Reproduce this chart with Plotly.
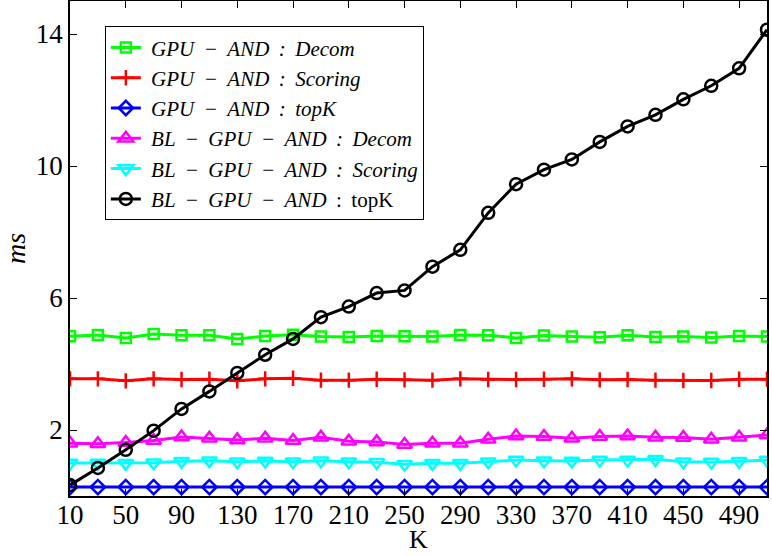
import plotly.graph_objects as go

K = list(range(10, 511, 20))

gpu_decom = [4.84, 4.88, 4.79, 4.91, 4.87, 4.87, 4.76, 4.85, 4.89, 4.83, 4.82, 4.85, 4.84,
             4.83, 4.88, 4.87, 4.79, 4.86, 4.83, 4.81, 4.87, 4.82, 4.83, 4.80, 4.85, 4.83]
gpu_scoring = [3.55, 3.55, 3.49, 3.55, 3.53, 3.54, 3.49, 3.55, 3.57, 3.51, 3.51, 3.54, 3.52,
               3.51, 3.55, 3.53, 3.53, 3.54, 3.55, 3.52, 3.53, 3.51, 3.50, 3.50, 3.54, 3.54]
gpu_topk = [0.27] * 26
bl_decom = [1.60, 1.58, 1.62, 1.68, 1.79, 1.75, 1.70, 1.75, 1.68, 1.78, 1.66, 1.64, 1.56,
            1.60, 1.60, 1.72, 1.82, 1.80, 1.75, 1.80, 1.82, 1.78, 1.77, 1.72, 1.78, 1.85]
bl_scoring = [1.00, 1.00, 0.99, 1.01, 1.05, 1.07, 1.04, 1.06, 1.04, 1.07, 1.04, 1.02, 0.96,
              0.99, 0.99, 1.04, 1.09, 1.07, 1.06, 1.09, 1.09, 1.11, 1.04, 1.03, 1.05, 1.09]
bl_topk = [0.33, 0.85, 1.40, 1.98, 2.64, 3.17, 3.73, 4.28, 4.76, 5.42, 5.74, 6.15, 6.23,
           6.95, 7.46, 8.58, 9.45, 9.89, 10.20, 10.73, 11.20, 11.55, 12.02, 12.43, 12.96, 14.13]

x_ticks = list(range(10, 491, 40))
y_ticks = [2, 6, 10, 14]

S = " \u2009"  # slightly widened math spacing
names = [
    f"\u00a0<i>GPU{S}−{S}AND{S}:{S}Decom</i>",
    f"\u00a0<i>GPU{S}−{S}AND{S}:{S}Scoring</i>",
    f"\u00a0<i>GPU{S}−{S}AND{S}:{S}topK</i>",
    f"\u00a0<i>BL{S}−{S}GPU{S}−{S}AND{S}:{S}Decom</i>",
    f"\u00a0<i>BL{S}−{S}GPU{S}−{S}AND{S}:{S}Scoring</i>",
    f"\u00a0<i>BL{S}−{S}GPU{S}−{S}AND</i>{S}:{S}topK",
]
series = [gpu_decom, gpu_scoring, gpu_topk, bl_decom, bl_scoring, bl_topk]
colors = ["#00ff00", "#ff0000", "#0000ff", "#ff00ff", "#00ffff", "#000000"]
symbols = ["square-open", "cross-thin-open", "diamond-open", "triangle-up-open",
           "triangle-down-open", "circle-open"]
sizes = [10, 11, 11, 13, 13, 12]

fig = go.Figure()
for name, ys, c, s, sz in zip(names, series, colors, symbols, sizes):
    fig.add_trace(go.Scatter(
        x=K, y=ys, mode="lines+markers", name=name,
        line=dict(color=c, width=3),
        marker=dict(symbol=s, size=sz, color=c, line=dict(color=c, width=2.5)),
    ))

axis_common = dict(
    showline=True, linecolor="black", linewidth=1.5, mirror="ticks",
    ticks="inside", ticklen=7, tickcolor="black", tickwidth=1,
    showgrid=False, zeroline=False, automargin=False,
    tickfont=dict(family="Liberation Serif", size=27, color="black"),
)

fig.update_layout(
    width=772, height=556,
    margin=dict(l=70, r=5, t=1, b=60),
    paper_bgcolor="white", plot_bgcolor="white",
    xaxis=dict(range=[10, 510], tickvals=x_ticks, ticklabelstandoff=-6, **axis_common),
    yaxis=dict(range=[0, 15], tickvals=y_ticks,
               title=dict(text="<i>ms</i>", font=dict(family="Liberation Serif", size=28, color="black"),
                          standoff=8),
               **axis_common),
    legend=dict(x=0.05, y=0.949, xanchor="left", yanchor="top",
                bordercolor="black", borderwidth=1, bgcolor="white",
                font=dict(family="Liberation Serif", size=21, color="black")),
    annotations=[dict(text="K", xref="paper", yref="paper", x=0.5, y=-0.087,
                      xanchor="center", yanchor="middle", showarrow=False,
                      font=dict(family="Liberation Serif", size=26, color="black"))],
    showlegend=True,
)

fig.write_html("out.html")
